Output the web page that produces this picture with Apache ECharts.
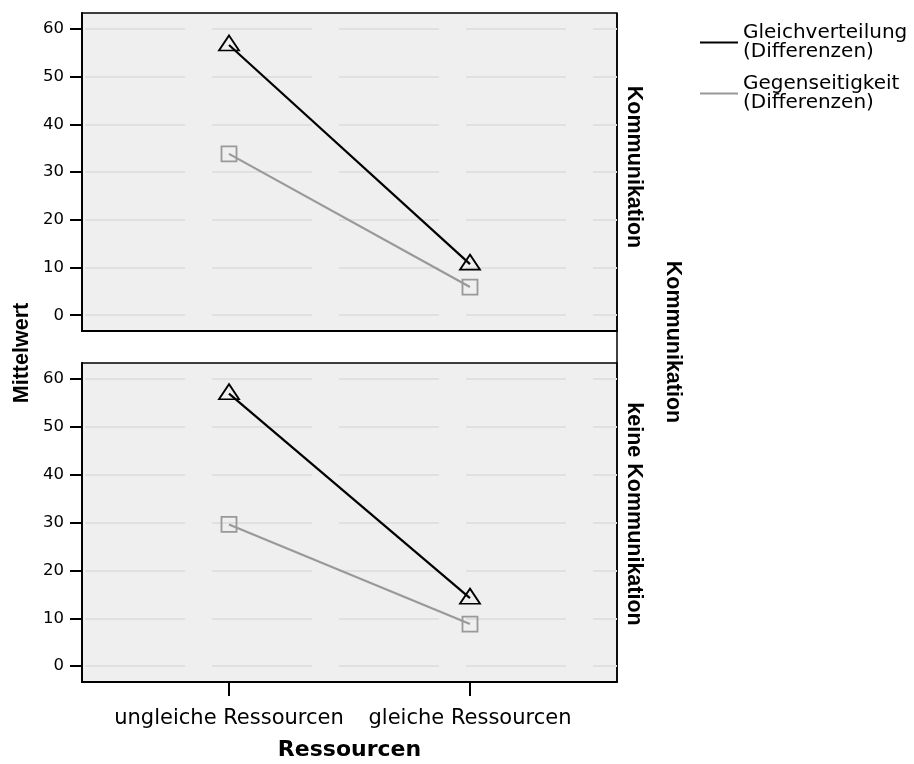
<!DOCTYPE html>
<html><head><meta charset="utf-8">
<script src="https://cdn.jsdelivr.net/npm/echarts@6/dist/echarts.min.js"></script>
<style>html,body{margin:0;padding:0;background:#fff}#c{width:914px;height:764px}</style>
</head><body><div id="c"></div>
<script>
// ---- data ----
const categories = ['ungleiche Ressourcen', 'gleiche Ressourcen'];
const xPositions = [1, 2];
const panelLabels = ['Kommunikation', 'keine Kommunikation'];
const facetTitle = 'Kommunikation';
const seriesNames = ['Gleichverteilung (Differenzen)', 'Gegenseitigkeit (Differenzen)'];
const gleichKommunikation = [56.6, 10.7];
const gegenKommunikation = [33.8, 5.9];
const gleichKeineKommunikation = [56.9, 14.2];
const gegenKeineKommunikation = [29.6, 8.8];
const yTicks = [0, 10, 20, 30, 40, 50, 60];
const xAxisTitle = 'Ressourcen';
const yAxisTitle = 'Mittelwert';

// ---- styles ----
const BLACK = '#000';
const GRAY = '#999';
const FONT = 'DejaVu Sans';
const VFONT = 'Liberation Sans';

function yAxisFor(i) {
  return {
    type: 'value', gridIndex: i, min: -3.3, max: 63.3,
    axisLine: { show: true, onZero: false, lineStyle: { color: BLACK, width: 2 } },
    axisTick: { show: true, customValues: yTicks, length: 12, lineStyle: { color: BLACK, width: 2 } },
    axisLabel: { customValues: yTicks, margin: 18, color: BLACK, fontFamily: FONT, fontSize: 16.5 },
    splitLine: { show: true, lineStyle: { color: '#e0e0e0', width: 2, type: [100, 27], dashOffset: 124 } }
  };
}
function xAxisFor(i, showLabels) {
  return {
    type: 'value', gridIndex: i, min: 0.39, max: 2.61,
    axisLine: { show: true, onZero: false, lineStyle: { color: BLACK, width: 2 } },
    axisTick: { show: showLabels, customValues: xPositions, length: 14, lineStyle: { color: BLACK, width: 2 } },
    axisLabel: { show: showLabels, customValues: xPositions, margin: 26, color: BLACK, fontFamily: FONT, fontSize: 21,
      formatter: v => categories[xPositions.indexOf(Math.round(v))] || '' },
    splitLine: { show: false },
    name: showLabels ? xAxisTitle : '', nameLocation: 'middle', nameGap: 57,
    nameTextStyle: { fontFamily: FONT, fontWeight: 'bold', fontSize: 22, color: BLACK }
  };
}
function lineSeries(name, vals, gi, isTriangle) {
  const color = isTriangle ? BLACK : GRAY;
  return {
    type: 'line', name: name, xAxisIndex: gi, yAxisIndex: gi,
    data: vals.map((v, k) => [xPositions[k], v]),
    symbol: isTriangle ? 'triangle' : 'rect',
    symbolSize: isTriangle ? [20, 15] : [15, 15],
    symbolOffset: isTriangle ? [0, -2] : [0, 0],
    lineStyle: { color: color, width: 2.2 },
    itemStyle: { color: 'rgba(0,0,0,0)', borderColor: color, borderWidth: 1.8 },
    silent: true, animation: false, emphasis: { disabled: true }
  };
}

const chart = echarts.init(document.getElementById('c'));
chart.setOption({
  animation: false,
  grid: [
    { left: 82, top: 13, width: 535, height: 318, show: true, backgroundColor: '#efefef', borderColor: BLACK, borderWidth: 1.5, outerBoundsMode: 'none' },
    { left: 82, top: 363, width: 535, height: 319, show: true, backgroundColor: '#efefef', borderColor: BLACK, borderWidth: 1.5, outerBoundsMode: 'none' }
  ],
  xAxis: [xAxisFor(0, false), xAxisFor(1, true)],
  yAxis: [yAxisFor(0), yAxisFor(1)],
  legend: {
    orient: 'vertical', left: 700, top: 23, padding: 0,
    itemWidth: 38, itemHeight: 2, itemGap: 12, selectedMode: false,
    data: [
      { name: seriesNames[0], icon: 'rect', itemStyle: { color: BLACK, borderWidth: 0 } },
      { name: seriesNames[1], icon: 'rect', itemStyle: { color: GRAY, borderWidth: 0 } }
    ],
    formatter: n => n.replace(' (', '\n('),
    textStyle: { fontFamily: FONT, fontSize: 20, lineHeight: 19, color: BLACK }
  },
  graphic: [
    { type: 'text', x: 22, y: 353, rotation: Math.PI / 2,
      style: { text: yAxisTitle, fontFamily: VFONT, fontWeight: 'bold', fontSize: 21.5, fill: BLACK, align: 'center', verticalAlign: 'middle' } },
    { type: 'text', x: 634, y: 167, rotation: -Math.PI / 2,
      style: { text: panelLabels[0], fontFamily: VFONT, fontWeight: 'bold', fontSize: 21.5, fill: BLACK, align: 'center', verticalAlign: 'middle' } },
    { type: 'text', x: 634, y: 514, rotation: -Math.PI / 2,
      style: { text: panelLabels[1], fontFamily: VFONT, fontWeight: 'bold', fontSize: 21.5, fill: BLACK, align: 'center', verticalAlign: 'middle' } },
    { type: 'text', x: 673, y: 342, rotation: -Math.PI / 2,
      style: { text: facetTitle, fontFamily: VFONT, fontWeight: 'bold', fontSize: 21.5, fill: BLACK, align: 'center', verticalAlign: 'middle' } },
    { type: 'line', shape: { x1: 617, y1: 13, x2: 617, y2: 682 }, style: { stroke: BLACK, lineWidth: 1.5 } }
  ],
  series: [
    lineSeries(seriesNames[0], gleichKommunikation, 0, true),
    lineSeries(seriesNames[1], gegenKommunikation, 0, false),
    lineSeries(seriesNames[0], gleichKeineKommunikation, 1, true),
    lineSeries(seriesNames[1], gegenKeineKommunikation, 1, false)
  ]
});
</script></body></html>
